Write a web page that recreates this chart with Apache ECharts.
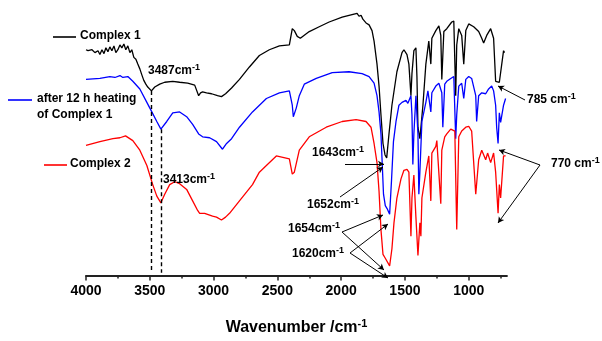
<!DOCTYPE html>
<html><head><meta charset="utf-8">
<script src="https://cdn.jsdelivr.net/npm/echarts@6/dist/echarts.min.js"></script>
<style>html,body{margin:0;padding:0;background:#fff}#c{width:602px;height:341px}</style>
</head><body><div id="c"></div>
<script>
// ---- data: [wavenumber (cm-1), relative transmittance (a.u.)] ----
const complex1 = [
[4000,236],[3984,235],[3953,236],[3930,233],[3906,235],[3891,231],[3875,236],[3859,232],[3844,238],[3828,234],
[3813,239],[3797,235],[3781,240],[3766,233],[3750,236],[3734,241],[3719,238],[3703,242],[3688,236],[3672,240],
[3656,233],[3641,236],[3625,228],[3609,226],[3594,221],[3578,216],[3563,210],[3547,204],[3531,200],[3516,197],
[3487,193],[3461,197],[3422,200],[3383,202],[3320,203],[3266,202],[3203,201],[3148,199],[3117,188],[3102,191],
[3086,192],[3055,191],[3016,190],[2969,188],[2938,187],[2906,190],[2859,196],[2797,205],[2719,218],[2641,230],
[2563,236],[2484,240],[2406,241],[2383,258],[2367,256],[2344,250],[2320,248],[2250,255],[2172,260],[2094,265],
[1992,270],[1938,272],[1875,274],[1860,271],[1844,272],[1830,268],[1820,270],[1805,264],[1797,266],[1781,262],
[1770,263],[1758,256],[1742,245],[1719,221],[1703,198],[1688,168],[1672,138],[1656,126],[1643,123],[1625,148],
[1602,178],[1563,213],[1523,233],[1508,236],[1484,231],[1469,221],[1453,188],[1445,211],[1430,235],[1414,238],
[1406,208],[1398,155],[1383,143],[1375,145],[1359,178],[1336,221],[1313,245],[1297,221],[1289,248],[1258,256],
[1234,261],[1219,251],[1211,205],[1195,255],[1172,258],[1133,265],[1117,266],[1102,188],[1094,241],[1078,258],
[1055,251],[1039,221],[1023,256],[1000,263],[961,260],[922,255],[898,248],[883,243],[859,251],[828,258],
[805,248],[789,203],[785,202],[760,202],[750,203],[727,235],[719,233]
];
const heated = [
[4000,205],[3891,206],[3813,208],[3773,207],[3734,209],[3711,207],[3672,208],[3633,203],[3578,195],[3523,181],
[3484,171],[3445,161],[3413,153],[3367,161],[3320,170],[3266,171],[3211,166],[3164,158],[3117,148],[3086,145],
[3031,144],[2977,140],[2930,132],[2898,138],[2859,143],[2797,155],[2695,171],[2586,185],[2484,191],[2406,193],
[2383,178],[2375,166],[2352,175],[2328,188],[2289,200],[2195,206],[2070,212],[1938,213],[1836,211],[1781,208],
[1742,201],[1719,188],[1703,171],[1688,148],[1680,123],[1668,85],[1654,73],[1640,70],[1620,64],[1605,100],
[1590,140],[1570,161],[1547,178],[1523,181],[1492,183],[1477,180],[1453,188],[1445,168],[1438,116],[1430,148],
[1414,188],[1398,148],[1391,85],[1383,108],[1367,161],[1336,181],[1320,193],[1297,171],[1289,191],[1258,198],
[1234,201],[1211,191],[1203,155],[1188,200],[1172,203],[1141,206],[1117,208],[1102,143],[1094,168],[1078,198],
[1055,201],[1039,185],[1023,205],[1000,208],[977,206],[945,188],[938,161],[922,188],[898,191],[867,190],
[844,195],[820,198],[805,193],[789,178],[781,155],[770,138],[760,170],[750,160],[727,178],[711,185]
];
const complex2 = [
[4000,136],[3891,140],[3789,143],[3734,144],[3690,146],[3680,144],[3633,141],[3578,131],[3523,115],[3477,95],
[3445,83],[3413,76],[3383,85],[3344,95],[3305,98],[3266,96],[3211,90],[3164,78],[3125,68],[3109,65],
[3070,65],[3008,62],[2977,61],[2938,58],[2906,61],[2875,65],[2797,78],[2695,95],[2641,108],[2586,115],
[2508,125],[2406,122],[2383,106],[2367,108],[2328,131],[2250,145],[2117,155],[1992,161],[1883,163],[1805,161],
[1766,155],[1742,138],[1719,118],[1703,88],[1688,48],[1672,22],[1654,18],[1640,16],[1620,10],[1602,28],
[1586,55],[1563,81],[1531,101],[1508,110],[1484,111],[1469,108],[1453,41],[1445,81],[1430,105],[1414,61],
[1398,21],[1383,55],[1375,41],[1367,81],[1336,108],[1313,125],[1297,78],[1289,128],[1258,135],[1250,141],
[1219,75],[1211,131],[1188,145],[1172,148],[1141,153],[1109,151],[1094,48],[1078,145],[1055,151],[1023,155],
[1000,156],[977,151],[945,85],[922,121],[898,131],[867,121],[852,128],[828,118],[805,128],[789,108],
[770,65],[760,95],[750,81],[727,125],[711,125]
];
const seriesNames = ['Complex 1', 'after 12 h heating\nof Complex 1', 'Complex 2'];
const majorTicks = [1000,1500,2000,2500,3000,3500,4000];
const minorTicks = [750,1250,1750,2250,2750,3250,3750];
const ohPeaks = [[3487,193],[3413,153]];
const peakLabels = ['3487', '3413', '1643', '1652', '1654', '1620', '785 ', '770 '];

const F = '"Liberation Sans", Arial, sans-serif';
const chart = echarts.init(document.getElementById('c'), null, {renderer:'canvas'});

function lbl(t, x, y) {
  return {type:'text', left:x, top:y - 9, z:100,
    style:{text:'{n|' + t + 'cm}{s|-1}', rich:{
      n:{fontSize:12, fontWeight:'bold', fontFamily:F, fill:'#000'},
      s:{fontSize:9, fontWeight:'bold', fontFamily:F, fill:'#000', padding:[0,0,7,0]}}}};
}
function legLine(x1, x2, y, c) {
  return {type:'line', shape:{x1:x1, y1:y, x2:x2, y2:y}, style:{stroke:c, lineWidth:1.6}, z:100};
}
function legText(t, x, y) {
  return {type:'text', left:x, top:y - 7, z:100,
    style:{text:t, fontSize:12, fontWeight:'bold', fontFamily:F, fill:'#000'}};
}
function arrow(x1, y1, x2, y2) {
  return [{x:x1, y:y1}, {x:x2, y:y2}];
}

const lineStyleBase = {width:1.3};
chart.setOption({
  animation:false,
  grid:{left:86, right:95, top:0, bottom:53},
  xAxis:[{
    type:'value', min:700, max:4000, inverse:true, position:'bottom',
    axisLine:{show:true, lineStyle:{color:'#222', width:1.8}},
    axisTick:{show:true, customValues:majorTicks, length:5, lineStyle:{color:'#222', width:1.5}},
    axisLabel:{show:true, customValues:majorTicks, formatter:v => String(v), fontSize:14, fontWeight:'bold', fontFamily:F, color:'#000', margin:9},
    splitLine:{show:false},
    name:'{n|Wavenumber /cm}{s|-1}', nameLocation:'middle', nameGap:43,
    nameTextStyle:{rich:{
      n:{fontSize:16, fontWeight:'bold', fontFamily:F, color:'#000'},
      s:{fontSize:11, fontWeight:'bold', fontFamily:F, color:'#000', padding:[0,0,8,0]}}}
  },{
    type:'value', min:700, max:4000, inverse:true, position:'bottom',
    axisLine:{show:false},
    axisTick:{show:true, customValues:minorTicks, length:3, lineStyle:{color:'#222', width:1.5}},
    axisLabel:{show:false}, splitLine:{show:false}
  }],
  yAxis:{type:'value', min:0, max:288, show:false},
  series:[
    {name:seriesNames[0], type:'line', data:complex1, showSymbol:false, lineStyle:Object.assign({color:'#000'}, lineStyleBase), itemStyle:{color:'#000'}},
    {name:seriesNames[1], type:'line', data:heated, showSymbol:false, lineStyle:Object.assign({color:'#0000ff'}, lineStyleBase), itemStyle:{color:'#0000ff'}},
    {name:seriesNames[2], type:'line', data:complex2, showSymbol:false, lineStyle:Object.assign({color:'#ff0000'}, lineStyleBase), itemStyle:{color:'#ff0000'}},
    {type:'line', data:[], silent:true,
      markLine:{silent:true, symbol:'none', label:{show:false},
        lineStyle:{color:'#000', type:[4,3], width:1.4},
        data: ohPeaks.map(p => [{coord:[p[0], p[1]]}, {coord:[p[0], 3]}])}},
    {type:'line', data:[], silent:true,
      markLine:{silent:true, symbol:['none','arrow'], symbolSize:[5,6], label:{show:false},
        lineStyle:{color:'#000', type:'solid', width:1},
        data:[
          arrow(345,164,384,164),
          arrow(340,197,383,167),
          arrow(342,232,383,215),
          arrow(342,232,384,270),
          arrow(350,253,388,224),
          arrow(350,253,388,278),
          arrow(525,100,498,86),
          arrow(540,165,499,150),
          arrow(540,165,498,223)
        ]}}
  ],
  graphic:[
    legLine(53,76,37,'#000'), legText('Complex 1',80,37),
    legLine(8,32,100,'#0000ff'), legText('after 12 h heating',37,100), legText('of Complex 1',37,116),
    legLine(44,67,165,'#ff0000'), legText('Complex 2',70,165),
    lbl(peakLabels[0],148,72),
    lbl(peakLabels[1],163,181),
    lbl(peakLabels[2],312,154),
    lbl(peakLabels[3],307,206),
    lbl(peakLabels[4],288,230),
    lbl(peakLabels[5],292,255),
    lbl(peakLabels[6],527,101),
    lbl(peakLabels[7],551,165)
  ]
});
</script></body></html>
